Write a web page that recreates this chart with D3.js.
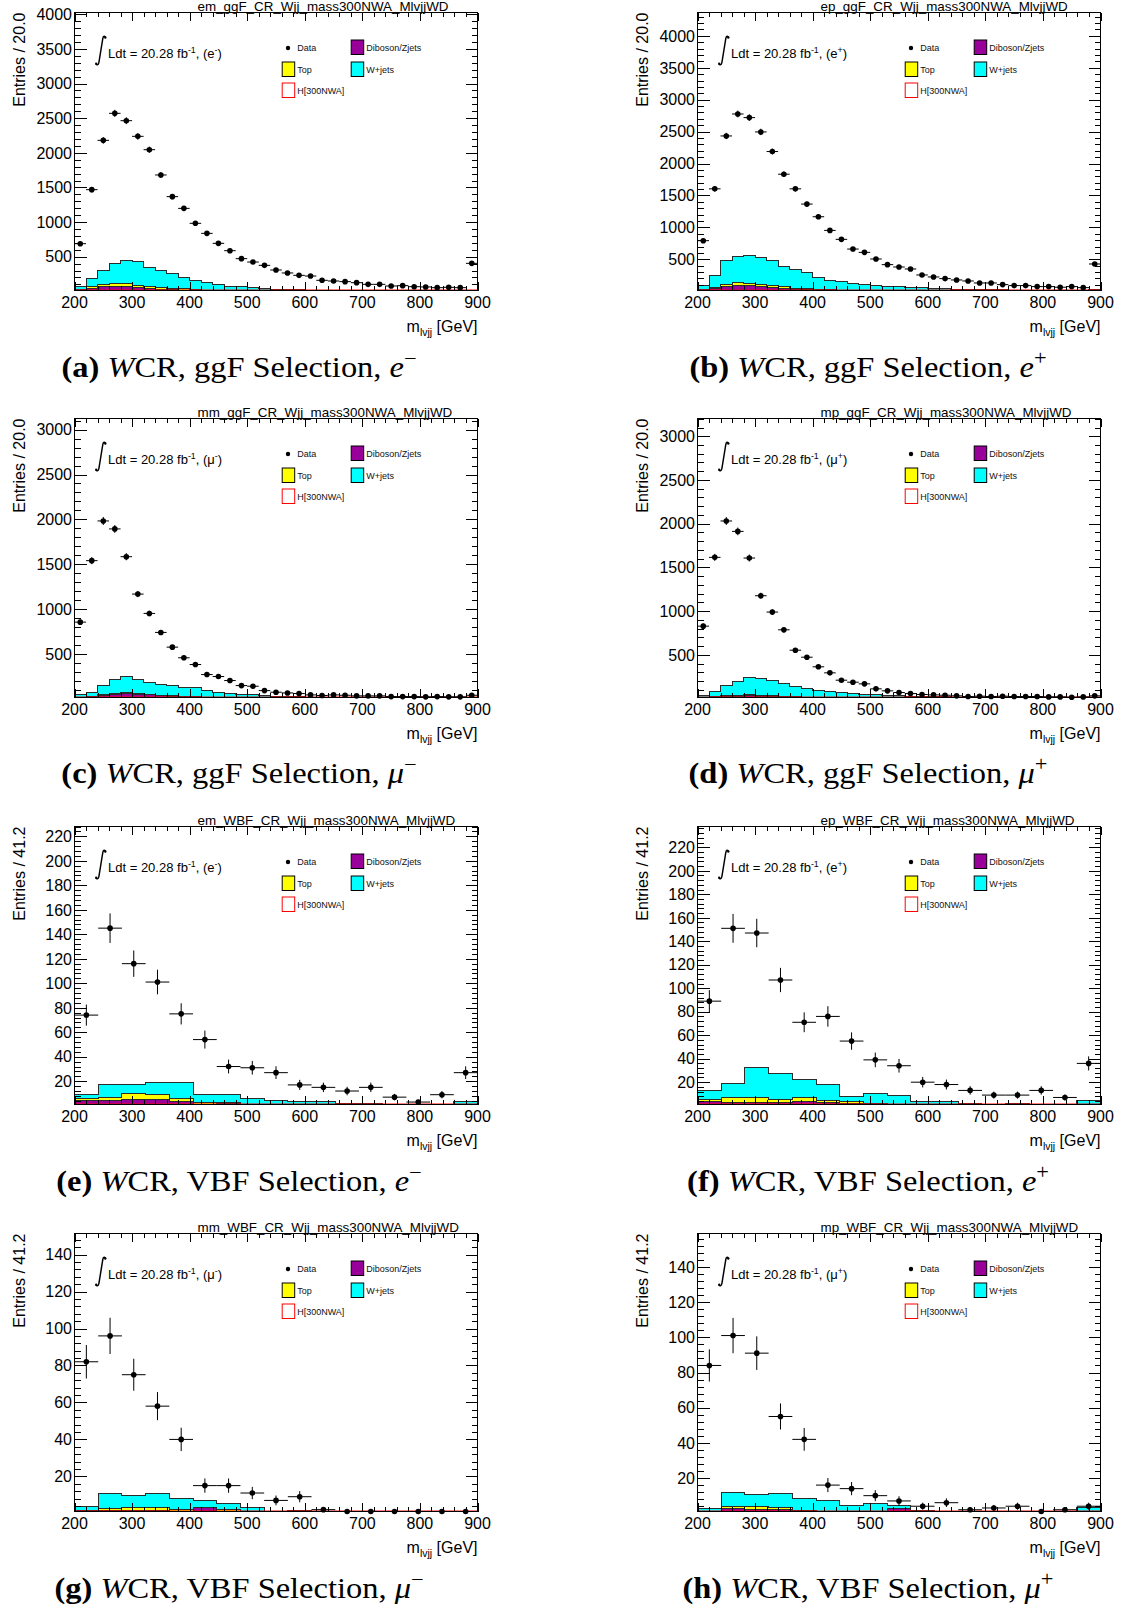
<!DOCTYPE html>
<html>
<head>
<meta charset="utf-8">
<script src="https://cdn.jsdelivr.net/npm/d3@7"></script>
<style>
  body { margin: 0; background: #fff; }
  svg { display: block; }
</style>
</head>
<body>
<svg id="fig" width="1127" height="1610"></svg>
<script>
// ---------------- histogram contents ----------------
// ggF selection: 35 bins of 20 GeV from 200 to 900 GeV (last bin includes overflow)
// VBF selection: 17 bins of 41.2 GeV from 200 to 900 GeV

// (a) e-, ggF
const dataA = [688,1468,2180,2570,2464,2238,2045,1680,1367,1198,982,837,693,587,472,423,375,308,265,231,221,159,149,140,125,101,101,77,82,67,63,53,58,53,404];
const dibA  = [18,45,65,68,65,50,40,28,22,18,14,11,9,7,6,5,4,3,3,2,2,2,1,1,1,1,1,1,1,1,1,1,1,1,1];
const topA  = [10,18,30,48,50,40,36,32,18,16,10,8,6,5,4,3,3,2,2,2,1,1,1,1,1,1,0,0,0,0,0,0,0,0,0];
const wjA   = [37,127,210,284,335,335,274,235,215,171,136,106,85,63,60,42,33,25,20,16,15,12,10,8,7,6,6,5,4,4,3,3,2,2,7];

// (b) e+, ggF
const dataB = [792,1604,2432,2776,2719,2495,2188,1833,1604,1365,1167,953,813,661,609,505,417,380,349,255,224,198,177,161,130,130,104,89,89,73,73,63,73,57,427];
const dibB  = [22,48,80,88,85,72,58,45,35,28,20,16,12,10,8,6,5,4,3,3,2,2,2,2,1,1,1,1,1,1,1,1,1,1,2];
const topB  = [8,16,32,42,42,36,30,26,16,12,9,7,6,5,4,3,3,2,2,2,1,1,1,1,1,1,1,0,0,0,0,0,0,0,0];
const wjB   = [64,176,362,417,430,418,386,309,288,257,185,149,128,105,92,85,70,62,52,47,42,37,32,27,24,20,18,17,15,13,11,10,9,9,18];

// (c) mu-, ggF
const dataC = [853,1539,1982,1893,1583,1166,950,738,574,455,380,268,246,201,145,138,89,71,63,56,41,34,41,37,30,30,30,22,22,22,19,22,19,19,37];
const dibC  = [10,20,35,50,55,48,40,32,25,20,18,12,9,7,5,4,3,3,2,2,2,1,1,1,1,1,1,1,1,1,1,1,1,1,1];
const topC  = [3,5,8,12,14,10,8,6,5,4,3,2,2,1,1,1,1,1,0,0,0,0,0,0,0,0,0,0,0,0,0,0,0,0,0];
const wjC   = [35,38,99,150,173,158,131,118,112,95,98,72,60,48,39,36,26,20,18,16,13,12,11,10,9,8,7,6,5,5,4,4,4,3,7];

// (d) mu+, ggF
const dataD = [828,1615,2031,1912,1607,1176,989,786,553,473,363,294,210,187,168,111,88,69,57,46,42,38,31,23,27,23,27,23,23,23,19,19,15,19,31];
const dibD  = [8,15,25,28,30,28,25,20,15,12,10,8,6,5,4,3,3,2,2,2,1,1,1,1,1,1,1,1,1,1,1,1,1,1,1];
const topD  = [3,5,8,10,14,10,8,6,5,4,3,2,2,1,1,1,1,0,0,0,0,0,0,0,0,0,0,0,0,0,0,0,0,0,0];
const wjD   = [23,60,116,157,196,187,173,150,121,95,79,70,57,47,41,38,30,29,25,21,19,17,15,13,11,10,9,8,7,6,6,5,5,5,7];

// (e) e-, VBF
const dataE = [74,145,116,101,75,54,32,31,27,17,15,12,15,7,3,9,27];
const dibE  = [4.5,4.3,4.8,5.1,3.7,1.2,1.5,0.8,0.6,0.5,0.4,0.3,0.3,0.2,0.2,0.2,0.5];
const topE  = [1.2,2.7,5.2,4.3,1.9,1.2,1.0,0.5,0.3,0.2,0.2,0.1,0.1,0.1,0.1,0.1,0.2];
const wjE   = [3.2,10.0,7.0,9.8,13.0,6.5,6.9,4.3,3.6,3.0,2.6,1.4,1.1,0.7,0.7,0.7,3.0];

// (f) e+, VBF
const dataF = [89,151,147,107,71,76,55,39,34,20,18,13,9,9,13,7,36];
const dibF  = [3.5,2.5,2.5,2.5,3.5,3.0,2.0,1.0,0.8,0.6,0.5,0.4,0.3,0.5,0.3,0.2,0.5];
const topF  = [2.0,4.8,4.8,3.1,3.2,1.4,1.3,0.5,0.4,0.3,0.3,0.2,0.1,0.1,0.1,0.1,0.2];
const wjF   = [7.5,11.6,24.9,22.0,15.3,13.3,4.5,9.2,7.5,2.7,2.8,1.0,0.6,1.0,0.6,0.5,3.7];

// (g) mu-, VBF
const dataG = [82,96,75,58,40,15,15,11,7,9,2,1,0,0,0,0,0];
const dibG  = [0.8,1.8,1.8,1.8,1.2,3.0,0.8,0.4,0.3,0.3,0.2,0.1,0.1,0.1,0.1,0.1,0.1];
const topG  = [0.5,0.9,1.3,1.6,1.1,0.4,1.5,0.2,0.1,0.1,0.1,0,0,0,0,0,0];
const wjG   = [2.3,8.1,6.4,7.4,5.8,3.3,3.1,2.8,0.6,1.0,0.7,0.4,0.3,0.2,0.2,0.2,0.3];

// (h) mu+, VBF
const dataH = [84,101,91,55,42,16,14,10,7,4,6,2,3,4,1,2,4];
const dibH  = [0.5,2.6,2.0,2.0,0.8,0.6,0.5,0.8,2.6,0.5,0.3,0.2,0.2,0.2,0.1,0.1,0.3];
const topH  = [0.3,1.3,1.9,1.5,0.6,0.4,0.3,0.3,0.2,0.2,0.1,0.1,0.1,0.1,0,0,0.1];
const wjH   = [1.8,7.8,6.6,8.0,6.8,6.1,3.7,4.3,1.7,0.9,0.6,0.7,0.2,0.2,0.4,0.4,3.1];

// H[300NWA] signal templates (tiny in the W control region)
const sigGGF = [1,2,3,4,5,4,3,2,2,1,1,1,1,1,1,1,1,1,1,1,1,1,1,1,1,1,1,1,1,1,1,1,1,1,1];
const sigVBF = [0.1,0.2,0.3,0.3,0.2,0.1,0.1,0.1,0.1,0.1,0.1,0.1,0.1,0.1,0.1,0.1,0.1];

// axis tick labels
const xTickLabels = [200, 300, 400, 500, 600, 700, 800, 900];

// ---------------- panel definitions ----------------
const panels = [
  { id: 'a', ch: 'em', sel: 'ggF', lep: 'e', sgn: '-', data: dataA, dib: dibA, top: topA, wj: wjA, sig: sigGGF, ymax: 4026, step: 500 },
  { id: 'b', ch: 'ep', sel: 'ggF', lep: 'e', sgn: '+', data: dataB, dib: dibB, top: topB, wj: wjB, sig: sigGGF, ymax: 4365, step: 500 },
  { id: 'c', ch: 'mm', sel: 'ggF', lep: 'μ', sgn: '-', data: dataC, dib: dibC, top: topC, wj: wjC, sig: sigGGF, ymax: 3125, step: 500 },
  { id: 'd', ch: 'mp', sel: 'ggF', lep: 'μ', sgn: '+', data: dataD, dib: dibD, top: topD, wj: wjD, sig: sigGGF, ymax: 3203, step: 500 },
  { id: 'e', ch: 'em', sel: 'VBF', lep: 'e', sgn: '-', data: dataE, dib: dibE, top: topE, wj: wjE, sig: sigVBF, ymax: 228, step: 20 },
  { id: 'f', ch: 'ep', sel: 'VBF', lep: 'e', sgn: '+', data: dataF, dib: dibF, top: topF, wj: wjF, sig: sigVBF, ymax: 237.7, step: 20 },
  { id: 'g', ch: 'mm', sel: 'VBF', lep: 'μ', sgn: '-', data: dataG, dib: dibG, top: topG, wj: wjG, sig: sigVBF, ymax: 151.4, step: 20 },
  { id: 'h', ch: 'mp', sel: 'VBF', lep: 'μ', sgn: '+', data: dataH, dib: dibH, top: topH, wj: wjH, sig: sigVBF, ymax: 159, step: 20 }
];

// ---------------- layout ----------------
const cols = [ { L: 74.5, R: 477.5, capX: 239 }, { L: 697.5, R: 1100.5, capX: 868 } ];
const rows = [
  { T: 12.5,   B: 290.5,  capY: 377 },
  { T: 418.5,  B: 697.5,  capY: 783 },
  { T: 826.5,  B: 1104.5, capY: 1191 },
  { T: 1233.5, B: 1511.5, capY: 1598 }
];
const SANS = "'Liberation Sans', Arial, Helvetica, sans-serif";
const SERIF = "'Liberation Serif', 'Times New Roman', serif";
const COL = { wj: '#00ffff', top: '#ffff00', dib: '#990099', sig: '#ff0000', edge: '#2b2b2b' };

const svg = d3.select('#fig');
svg.append('rect').attr('width', 1127).attr('height', 1610).attr('fill', '#fff');

panels.forEach((p, k) => {
  const col = cols[k % 2], row = rows[Math.floor(k / 2)];
  drawPanel(p, col.L, row.T, col.R, row.B, col.capX, row.capY);
});

function drawPanel(p, L, T, R, B, capX, capY) {
  const n = p.data.length;
  const bw = 700 / n;
  const edges = d3.range(n + 1).map(i => 200 + i * bw);
  const ymin = p.sel === 'ggF' ? 12 : 1;

  const x = d3.scaleLinear().domain([200, 900]).range([L, R]);
  const y = d3.scaleLinear().domain([ymin, p.ymax]).range([B, T]).clamp(true);

  const g = svg.append('g');
  const clipId = 'clip-' + p.id;
  g.append('clipPath').attr('id', clipId)
    .append('rect').attr('x', L).attr('y', T).attr('width', R - L).attr('height', B - T);

  // cumulative stack: Diboson/Zjets, + Top, + W+jets
  const cDib = p.dib.slice();
  const cTop = cDib.map((v, i) => v + p.top[i]);
  const cAll = cTop.map((v, i) => v + p.wj[i]);

  const stepPts = arr => arr.map((v, i) => ({ e: edges[i], v })).concat([{ e: edges[n], v: arr[n - 1] }]);
  const area = d3.area().x(d => x(d.e)).y0(B).y1(d => y(d.v)).curve(d3.curveStepAfter);
  const line = d3.line().x(d => x(d.e)).y(d => y(d.v)).curve(d3.curveStepAfter);

  const plot = g.append('g').attr('clip-path', `url(#${clipId})`);
  [[cAll, COL.wj], [cTop, COL.top], [cDib, COL.dib]].forEach(([arr, fill]) => {
    plot.append('path').attr('d', area(stepPts(arr)))
      .attr('fill', fill).attr('stroke', COL.edge).attr('stroke-width', 1)
      .attr('shape-rendering', 'crispEdges');
  });
  // signal template
  plot.append('path').attr('d', line(stepPts(p.sig)))
    .attr('fill', 'none').attr('stroke', COL.sig).attr('stroke-width', 2.2);

  // frame
  g.append('rect').attr('x', L).attr('y', T).attr('width', R - L).attr('height', B - T)
    .attr('fill', 'none').attr('stroke', '#000').attr('stroke-width', 1);

  // ticks
  const tk = g.append('g').attr('stroke', '#000').attr('stroke-width', 1).attr('shape-rendering', 'crispEdges');
  const yMinor = p.step / 5;
  for (let v = Math.ceil(ymin / yMinor) * yMinor; v <= p.ymax + 1e-9; v += yMinor) {
    const major = Math.abs(v / p.step - Math.round(v / p.step)) < 1e-6;
    const len = major ? 12 : 6;
    const yy = Math.round(y(v)) + 0.5;
    tk.append('line').attr('x1', L).attr('x2', L + len).attr('y1', yy).attr('y2', yy);
    tk.append('line').attr('x1', R).attr('x2', R - len).attr('y1', yy).attr('y2', yy);
  }
  for (let v = 200; v <= 900; v += 20) {
    const major = v % 100 === 0;
    const len = major ? 8.5 : 4.5;
    const xx = Math.round(x(v)) + 0.5;
    tk.append('line').attr('x1', xx).attr('x2', xx).attr('y1', B).attr('y2', B - len);
    tk.append('line').attr('x1', xx).attr('x2', xx).attr('y1', T).attr('y2', T + len);
  }

  // data with statistical error bars
  const dg = g.append('g');
  p.data.forEach((v, i) => {
    const cx = x(edges[i] + bw / 2);
    const err = Math.sqrt(v);
    dg.append('line').attr('x1', x(edges[i])).attr('x2', x(edges[i + 1]))
      .attr('y1', y(v)).attr('y2', y(v)).attr('stroke', '#000').attr('stroke-width', 1);
    if (err > 0) {
      dg.append('line').attr('x1', cx).attr('x2', cx)
        .attr('y1', y(v - err)).attr('y2', y(v + err)).attr('stroke', '#000').attr('stroke-width', 1);
    }
    dg.append('circle').attr('cx', cx).attr('cy', y(v)).attr('r', 2.8).attr('fill', '#000');
  });

  // axis labels
  const lab = g.append('g').attr('font-family', SANS).attr('fill', '#000');
  for (let v = p.step; v <= p.ymax + 1e-9; v += p.step) {
    lab.append('text').attr('x', L - 2.5).attr('y', y(v)).attr('dy', '0.36em')
      .attr('text-anchor', 'end').attr('font-size', 16).text(v);
  }
  xTickLabels.forEach(v => {
    lab.append('text').attr('x', x(v)).attr('y', B + 17).attr('text-anchor', 'middle')
      .attr('font-size', 16).text(v);
  });
  const xt = lab.append('text').attr('x', R).attr('y', B + 41).attr('text-anchor', 'end').attr('font-size', 16);
  xt.append('tspan').text('m');
  xt.append('tspan').attr('dy', 4).attr('font-size', 10.5).text('lvjj');
  xt.append('tspan').attr('dy', -4).text(' [GeV]');

  lab.append('text').attr('transform', `translate(${L - 50},${T}) rotate(-90)`)
    .attr('text-anchor', 'end').attr('font-size', 16)
    .text(p.sel === 'ggF' ? 'Entries / 20.0' : 'Entries / 41.2');

  // histogram name
  lab.append('text').attr('x', L + 123).attr('y', T - 1.5).attr('font-size', 13.4)
    .text(`${p.ch}_${p.sel === 'ggF' ? 'ggF' : 'WBF'}_CR_Wjj_mass300NWA_MlvjjWD`);

  // luminosity label with integral sign
  const ig = g.append('g');
  ig.append('path')
    .attr('d', `M${L + 30.8},${T + 25} C${L + 30.6},${T + 23.2} ${L + 28.8},${T + 23} ${L + 28.3},${T + 26}
                L${L + 24.4},${T + 50} C${L + 23.9},${T + 52.8} ${L + 22},${T + 52.8} ${L + 21.7},${T + 51.2}`)
    .attr('fill', 'none').attr('stroke', '#000').attr('stroke-width', 1.5);
  ig.append('circle').attr('cx', L + 30.8).attr('cy', T + 25).attr('r', 1.2).attr('fill', '#000');
  ig.append('circle').attr('cx', L + 21.7).attr('cy', T + 51.2).attr('r', 1.2).attr('fill', '#000');
  const lt = lab.append('text').attr('x', L + 33.5).attr('y', T + 45).attr('font-size', 13);
  lt.append('tspan').text('Ldt = 20.28 fb');
  lt.append('tspan').attr('dy', -5).attr('font-size', 8.8).text('-1');
  lt.append('tspan').attr('dy', 5).text(', (' + p.lep);
  lt.append('tspan').attr('dy', -5).attr('font-size', 8.8).text(p.sgn);
  lt.append('tspan').attr('dy', 5).text(')');

  // legend
  const lg = g.append('g').attr('font-family', SANS).attr('font-size', 9).attr('fill', '#111');
  const r1 = T + 35.5, r2 = T + 57.5, r3 = T + 78.5;
  const c1 = L + 207.7, c2 = L + 276.7;
  lg.append('circle').attr('cx', L + 213.5).attr('cy', r1).attr('r', 2.2).attr('fill', '#000');
  lg.append('text').attr('x', c1 + 15).attr('y', r1).attr('dy', '0.35em').text('Data');
  const box = (bx, by, fill, stroke, label) => {
    lg.append('rect').attr('x', bx).attr('y', by - 8).attr('width', 12.5).attr('height', 14.5)
      .attr('fill', fill).attr('stroke', stroke).attr('stroke-width', 1);
    lg.append('text').attr('x', bx + 15).attr('y', by).attr('dy', '0.35em').text(label);
  };
  box(c1, r2, COL.top, '#000', 'Top');
  box(c1, r3, '#fff', COL.sig, 'H[300NWA]');
  box(c2, r1, COL.dib, '#000', 'Diboson/Zjets');
  box(c2, r2, COL.wj, '#000', 'W+jets');

  // sub-figure caption
  const cg = svg.append('g').attr('transform', `translate(${capX},${capY}) scale(1.12,1)`);
  const cap = cg.append('text').attr('text-anchor', 'middle').attr('font-family', SERIF)
    .attr('font-size', 29).attr('fill', '#000');
  cap.append('tspan').attr('font-weight', 'bold').text(`(${p.id})`);
  cap.append('tspan').text(' ');
  cap.append('tspan').attr('font-style', 'italic').text('W');
  cap.append('tspan').text(`CR, ${p.sel} Selection, `);
  cap.append('tspan').attr('font-style', 'italic').text(p.lep);
  cap.append('tspan').attr('dy', -12).attr('font-size', 20).text(p.sgn === '-' ? '−' : '+');
}
</script>
</body>
</html>
